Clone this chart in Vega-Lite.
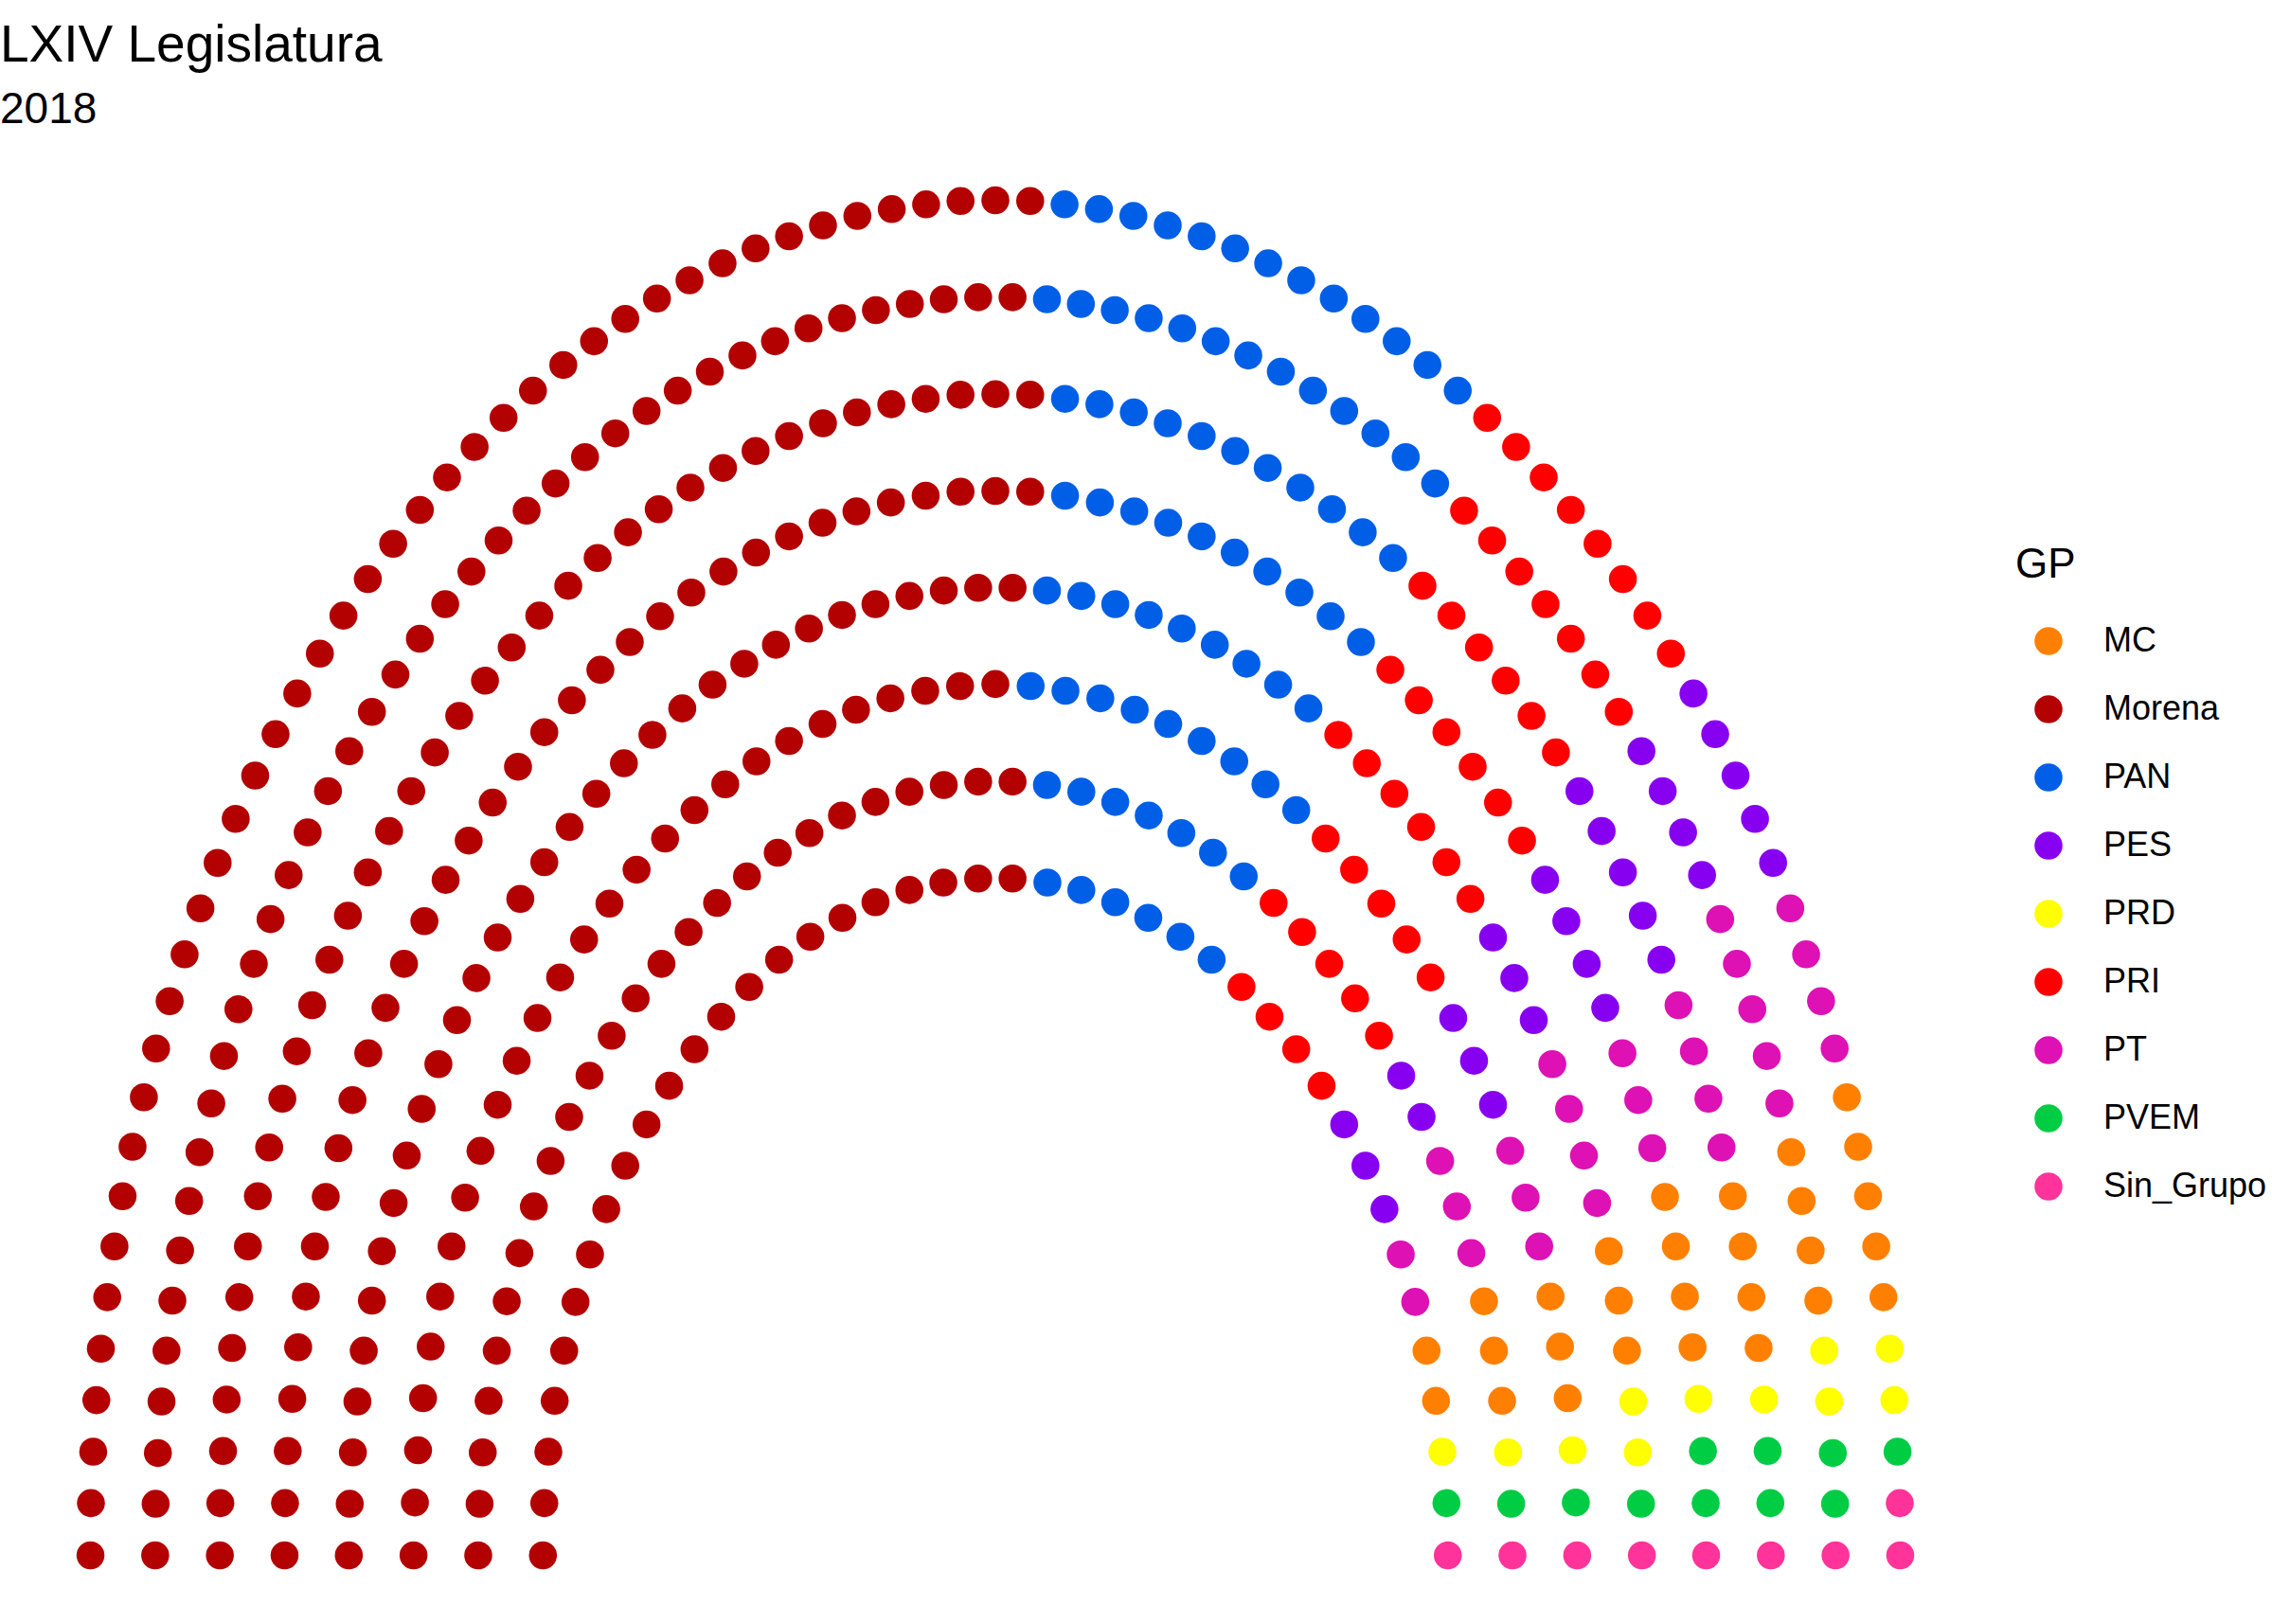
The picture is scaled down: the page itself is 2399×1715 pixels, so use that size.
{
"$schema":"https://vega.github.io/schema/vega-lite/v6.json",
"width":2102,"height":1574,
"autosize":{"type":"none"},
"padding":{"left":0,"top":140,"right":297,"bottom":1},
"background":"white",
"config":{"view":{"stroke":null},"font":"Liberation Sans"},
"title":{"text":"LXIV Legislatura","subtitle":"2018","anchor":"start","frame":"group","orient":"top","offset":0,"font":"Liberation Sans","fontSize":55,"fontWeight":"normal","color":"black","subtitleFont":"Liberation Sans","subtitleFontSize":46,"subtitleColor":"black","subtitlePadding":17},
"data":{"values":[
{"x":1,"y":0,"GP":"Sin_Grupo"},{"x":0.997,"y":0.077,"GP":"PVEM"},{"x":0.988,"y":0.153,"GP":"PRD"},{"x":0.974,"y":0.228,"GP":"MC"},{"x":0.953,"y":0.302,"GP":"MC"},{"x":0.928,"y":0.374,"GP":"PT"},{"x":0.896,"y":0.444,"GP":"PT"},{"x":0.860,"y":0.511,"GP":"PES"},{"x":0.818,"y":0.575,"GP":"PES"},{"x":0.771,"y":0.636,"GP":"PES"},{"x":0.721,"y":0.693,"GP":"PRI"},{"x":0.665,"y":0.747,"GP":"PRI"},{"x":0.606,"y":0.795,"GP":"PRI"},{"x":0.544,"y":0.839,"GP":"PRI"},{"x":0.478,"y":0.879,"GP":"PAN"},{"x":0.409,"y":0.913,"GP":"PAN"},{"x":0.338,"y":0.941,"GP":"PAN"},{"x":0.265,"y":0.964,"GP":"PAN"},{"x":0.190,"y":0.982,"GP":"PAN"},{"x":0.115,"y":0.993,"GP":"PAN"},{"x":0.038,"y":0.999,"GP":"Morena"},
{"x":-0.038,"y":0.999,"GP":"Morena"},{"x":-0.115,"y":0.993,"GP":"Morena"},{"x":-0.190,"y":0.982,"GP":"Morena"},{"x":-0.265,"y":0.964,"GP":"Morena"},{"x":-0.338,"y":0.941,"GP":"Morena"},{"x":-0.409,"y":0.913,"GP":"Morena"},{"x":-0.478,"y":0.879,"GP":"Morena"},{"x":-0.544,"y":0.839,"GP":"Morena"},{"x":-0.606,"y":0.795,"GP":"Morena"},{"x":-0.665,"y":0.747,"GP":"Morena"},{"x":-0.721,"y":0.693,"GP":"Morena"},{"x":-0.771,"y":0.636,"GP":"Morena"},{"x":-0.818,"y":0.575,"GP":"Morena"},{"x":-0.860,"y":0.511,"GP":"Morena"},{"x":-0.896,"y":0.444,"GP":"Morena"},{"x":-0.928,"y":0.374,"GP":"Morena"},{"x":-0.953,"y":0.302,"GP":"Morena"},{"x":-0.974,"y":0.228,"GP":"Morena"},{"x":-0.988,"y":0.153,"GP":"Morena"},{"x":-0.997,"y":0.077,"GP":"Morena"},{"x":-1,"y":0,"GP":"Morena"},
{"x":1.143,"y":0,"GP":"Sin_Grupo"},{"x":1.140,"y":0.076,"GP":"PVEM"},{"x":1.133,"y":0.152,"GP":"PRD"},{"x":1.120,"y":0.228,"GP":"MC"},{"x":1.102,"y":0.302,"GP":"MC"},{"x":1.080,"y":0.375,"GP":"MC"},{"x":1.052,"y":0.446,"GP":"PT"},{"x":1.020,"y":0.515,"GP":"PT"},{"x":0.983,"y":0.582,"GP":"PT"},{"x":0.942,"y":0.647,"GP":"PES"},{"x":0.897,"y":0.708,"GP":"PES"},{"x":0.848,"y":0.767,"GP":"PRI"},{"x":0.795,"y":0.822,"GP":"PRI"},{"x":0.738,"y":0.873,"GP":"PRI"},{"x":0.678,"y":0.920,"GP":"PRI"},{"x":0.615,"y":0.963,"GP":"PRI"},{"x":0.549,"y":1.002,"GP":"PAN"},{"x":0.481,"y":1.037,"GP":"PAN"},{"x":0.411,"y":1.066,"GP":"PAN"},{"x":0.339,"y":1.092,"GP":"PAN"},{"x":0.265,"y":1.112,"GP":"PAN"},{"x":0.190,"y":1.127,"GP":"PAN"},{"x":0.114,"y":1.137,"GP":"PAN"},{"x":0.038,"y":1.142,"GP":"Morena"},
{"x":-0.038,"y":1.142,"GP":"Morena"},{"x":-0.114,"y":1.137,"GP":"Morena"},{"x":-0.190,"y":1.127,"GP":"Morena"},{"x":-0.265,"y":1.112,"GP":"Morena"},{"x":-0.339,"y":1.092,"GP":"Morena"},{"x":-0.411,"y":1.066,"GP":"Morena"},{"x":-0.481,"y":1.037,"GP":"Morena"},{"x":-0.549,"y":1.002,"GP":"Morena"},{"x":-0.615,"y":0.963,"GP":"Morena"},{"x":-0.678,"y":0.920,"GP":"Morena"},{"x":-0.738,"y":0.873,"GP":"Morena"},{"x":-0.795,"y":0.822,"GP":"Morena"},{"x":-0.848,"y":0.767,"GP":"Morena"},{"x":-0.897,"y":0.708,"GP":"Morena"},{"x":-0.942,"y":0.647,"GP":"Morena"},{"x":-0.983,"y":0.582,"GP":"Morena"},{"x":-1.020,"y":0.515,"GP":"Morena"},{"x":-1.052,"y":0.446,"GP":"Morena"},{"x":-1.080,"y":0.375,"GP":"Morena"},{"x":-1.102,"y":0.302,"GP":"Morena"},{"x":-1.120,"y":0.228,"GP":"Morena"},{"x":-1.133,"y":0.152,"GP":"Morena"},{"x":-1.140,"y":0.076,"GP":"Morena"},{"x":-1.143,"y":0,"GP":"Morena"},
{"x":1.286,"y":0,"GP":"Sin_Grupo"},{"x":1.283,"y":0.078,"GP":"PVEM"},{"x":1.276,"y":0.155,"GP":"PRD"},{"x":1.265,"y":0.232,"GP":"MC"},{"x":1.248,"y":0.308,"GP":"MC"},{"x":1.227,"y":0.382,"GP":"MC"},{"x":1.202,"y":0.456,"GP":"PT"},{"x":1.172,"y":0.528,"GP":"PT"},{"x":1.138,"y":0.597,"GP":"PT"},{"x":1.100,"y":0.665,"GP":"PES"},{"x":1.058,"y":0.730,"GP":"PES"},{"x":1.012,"y":0.793,"GP":"PES"},{"x":0.962,"y":0.853,"GP":"PRI"},{"x":0.909,"y":0.909,"GP":"PRI"},{"x":0.853,"y":0.962,"GP":"PRI"},{"x":0.793,"y":1.012,"GP":"PRI"},{"x":0.730,"y":1.058,"GP":"PRI"},{"x":0.665,"y":1.100,"GP":"PAN"},{"x":0.597,"y":1.138,"GP":"PAN"},{"x":0.528,"y":1.172,"GP":"PAN"},{"x":0.456,"y":1.202,"GP":"PAN"},{"x":0.382,"y":1.227,"GP":"PAN"},{"x":0.308,"y":1.248,"GP":"PAN"},{"x":0.232,"y":1.265,"GP":"PAN"},{"x":0.155,"y":1.276,"GP":"PAN"},{"x":0.078,"y":1.283,"GP":"PAN"},{"x":0,"y":1.286,"GP":"Morena"},
{"x":-0.078,"y":1.283,"GP":"Morena"},{"x":-0.155,"y":1.276,"GP":"Morena"},{"x":-0.232,"y":1.265,"GP":"Morena"},{"x":-0.308,"y":1.248,"GP":"Morena"},{"x":-0.382,"y":1.227,"GP":"Morena"},{"x":-0.456,"y":1.202,"GP":"Morena"},{"x":-0.528,"y":1.172,"GP":"Morena"},{"x":-0.597,"y":1.138,"GP":"Morena"},{"x":-0.665,"y":1.100,"GP":"Morena"},{"x":-0.730,"y":1.058,"GP":"Morena"},{"x":-0.793,"y":1.012,"GP":"Morena"},{"x":-0.853,"y":0.962,"GP":"Morena"},{"x":-0.909,"y":0.909,"GP":"Morena"},{"x":-0.962,"y":0.853,"GP":"Morena"},{"x":-1.012,"y":0.793,"GP":"Morena"},{"x":-1.058,"y":0.730,"GP":"Morena"},{"x":-1.100,"y":0.665,"GP":"Morena"},{"x":-1.138,"y":0.597,"GP":"Morena"},{"x":-1.172,"y":0.528,"GP":"Morena"},{"x":-1.202,"y":0.456,"GP":"Morena"},{"x":-1.227,"y":0.382,"GP":"Morena"},{"x":-1.248,"y":0.308,"GP":"Morena"},{"x":-1.265,"y":0.232,"GP":"Morena"},{"x":-1.276,"y":0.155,"GP":"Morena"},{"x":-1.283,"y":0.078,"GP":"Morena"},{"x":-1.286,"y":0,"GP":"Morena"},
{"x":1.429,"y":0,"GP":"Sin_Grupo"},{"x":1.427,"y":0.076,"GP":"PVEM"},{"x":1.420,"y":0.152,"GP":"PRD"},{"x":1.410,"y":0.227,"GP":"PRD"},{"x":1.396,"y":0.302,"GP":"MC"},{"x":1.378,"y":0.376,"GP":"MC"},{"x":1.356,"y":0.449,"GP":"MC"},{"x":1.330,"y":0.520,"GP":"PT"},{"x":1.301,"y":0.590,"GP":"PT"},{"x":1.268,"y":0.659,"GP":"PT"},{"x":1.231,"y":0.725,"GP":"PT"},{"x":1.190,"y":0.790,"GP":"PES"},{"x":1.147,"y":0.852,"GP":"PES"},{"x":1.100,"y":0.912,"GP":"PES"},{"x":1.050,"y":0.969,"GP":"PRI"},{"x":0.997,"y":1.023,"GP":"PRI"},{"x":0.941,"y":1.075,"GP":"PRI"},{"x":0.882,"y":1.124,"GP":"PRI"},{"x":0.821,"y":1.169,"GP":"PRI"},{"x":0.758,"y":1.211,"GP":"PRI"},{"x":0.692,"y":1.250,"GP":"PAN"},{"x":0.625,"y":1.285,"GP":"PAN"},{"x":0.555,"y":1.316,"GP":"PAN"},{"x":0.485,"y":1.344,"GP":"PAN"},{"x":0.412,"y":1.368,"GP":"PAN"},{"x":0.339,"y":1.388,"GP":"PAN"},{"x":0.265,"y":1.404,"GP":"PAN"},{"x":0.190,"y":1.416,"GP":"PAN"},{"x":0.114,"y":1.424,"GP":"PAN"},{"x":0.038,"y":1.428,"GP":"Morena"},
{"x":-0.038,"y":1.428,"GP":"Morena"},{"x":-0.114,"y":1.424,"GP":"Morena"},{"x":-0.190,"y":1.416,"GP":"Morena"},{"x":-0.265,"y":1.404,"GP":"Morena"},{"x":-0.339,"y":1.388,"GP":"Morena"},{"x":-0.412,"y":1.368,"GP":"Morena"},{"x":-0.485,"y":1.344,"GP":"Morena"},{"x":-0.555,"y":1.316,"GP":"Morena"},{"x":-0.625,"y":1.285,"GP":"Morena"},{"x":-0.692,"y":1.250,"GP":"Morena"},{"x":-0.758,"y":1.211,"GP":"Morena"},{"x":-0.821,"y":1.169,"GP":"Morena"},{"x":-0.882,"y":1.124,"GP":"Morena"},{"x":-0.941,"y":1.075,"GP":"Morena"},{"x":-0.997,"y":1.023,"GP":"Morena"},{"x":-1.050,"y":0.969,"GP":"Morena"},{"x":-1.100,"y":0.912,"GP":"Morena"},{"x":-1.147,"y":0.852,"GP":"Morena"},{"x":-1.190,"y":0.790,"GP":"Morena"},{"x":-1.231,"y":0.725,"GP":"Morena"},{"x":-1.268,"y":0.659,"GP":"Morena"},{"x":-1.301,"y":0.590,"GP":"Morena"},{"x":-1.330,"y":0.520,"GP":"Morena"},{"x":-1.356,"y":0.449,"GP":"Morena"},{"x":-1.378,"y":0.376,"GP":"Morena"},{"x":-1.396,"y":0.302,"GP":"Morena"},{"x":-1.410,"y":0.227,"GP":"Morena"},{"x":-1.420,"y":0.152,"GP":"Morena"},{"x":-1.427,"y":0.076,"GP":"Morena"},{"x":-1.429,"y":0,"GP":"Morena"},
{"x":1.571,"y":0,"GP":"Sin_Grupo"},{"x":1.570,"y":0.077,"GP":"PVEM"},{"x":1.564,"y":0.154,"GP":"PVEM"},{"x":1.554,"y":0.231,"GP":"PRD"},{"x":1.541,"y":0.307,"GP":"MC"},{"x":1.524,"y":0.382,"GP":"MC"},{"x":1.504,"y":0.456,"GP":"MC"},{"x":1.480,"y":0.529,"GP":"MC"},{"x":1.452,"y":0.601,"GP":"PT"},{"x":1.421,"y":0.672,"GP":"PT"},{"x":1.386,"y":0.741,"GP":"PT"},{"x":1.348,"y":0.808,"GP":"PES"},{"x":1.307,"y":0.873,"GP":"PES"},{"x":1.262,"y":0.936,"GP":"PES"},{"x":1.215,"y":0.997,"GP":"PES"},{"x":1.164,"y":1.055,"GP":"PRI"},{"x":1.111,"y":1.111,"GP":"PRI"},{"x":1.055,"y":1.164,"GP":"PRI"},{"x":0.997,"y":1.215,"GP":"PRI"},{"x":0.936,"y":1.262,"GP":"PRI"},{"x":0.873,"y":1.307,"GP":"PRI"},{"x":0.808,"y":1.348,"GP":"PAN"},{"x":0.741,"y":1.386,"GP":"PAN"},{"x":0.672,"y":1.421,"GP":"PAN"},{"x":0.601,"y":1.452,"GP":"PAN"},{"x":0.529,"y":1.480,"GP":"PAN"},{"x":0.456,"y":1.504,"GP":"PAN"},{"x":0.382,"y":1.524,"GP":"PAN"},{"x":0.307,"y":1.541,"GP":"PAN"},{"x":0.231,"y":1.554,"GP":"PAN"},{"x":0.154,"y":1.564,"GP":"PAN"},{"x":0.077,"y":1.570,"GP":"Morena"},{"x":0,"y":1.571,"GP":"Morena"},
{"x":-0.077,"y":1.570,"GP":"Morena"},{"x":-0.154,"y":1.564,"GP":"Morena"},{"x":-0.231,"y":1.554,"GP":"Morena"},{"x":-0.307,"y":1.541,"GP":"Morena"},{"x":-0.382,"y":1.524,"GP":"Morena"},{"x":-0.456,"y":1.504,"GP":"Morena"},{"x":-0.529,"y":1.480,"GP":"Morena"},{"x":-0.601,"y":1.452,"GP":"Morena"},{"x":-0.672,"y":1.421,"GP":"Morena"},{"x":-0.741,"y":1.386,"GP":"Morena"},{"x":-0.808,"y":1.348,"GP":"Morena"},{"x":-0.873,"y":1.307,"GP":"Morena"},{"x":-0.936,"y":1.262,"GP":"Morena"},{"x":-0.997,"y":1.215,"GP":"Morena"},{"x":-1.055,"y":1.164,"GP":"Morena"},{"x":-1.111,"y":1.111,"GP":"Morena"},{"x":-1.164,"y":1.055,"GP":"Morena"},{"x":-1.215,"y":0.997,"GP":"Morena"},{"x":-1.262,"y":0.936,"GP":"Morena"},{"x":-1.307,"y":0.873,"GP":"Morena"},{"x":-1.348,"y":0.808,"GP":"Morena"},{"x":-1.386,"y":0.741,"GP":"Morena"},{"x":-1.421,"y":0.672,"GP":"Morena"},{"x":-1.452,"y":0.601,"GP":"Morena"},{"x":-1.480,"y":0.529,"GP":"Morena"},{"x":-1.504,"y":0.456,"GP":"Morena"},{"x":-1.524,"y":0.382,"GP":"Morena"},{"x":-1.541,"y":0.307,"GP":"Morena"},{"x":-1.554,"y":0.231,"GP":"Morena"},{"x":-1.564,"y":0.154,"GP":"Morena"},{"x":-1.570,"y":0.077,"GP":"Morena"},{"x":-1.571,"y":0,"GP":"Morena"},
{"x":1.714,"y":0,"GP":"Sin_Grupo"},{"x":1.713,"y":0.077,"GP":"PVEM"},{"x":1.707,"y":0.154,"GP":"PVEM"},{"x":1.699,"y":0.230,"GP":"PRD"},{"x":1.687,"y":0.306,"GP":"MC"},{"x":1.671,"y":0.381,"GP":"MC"},{"x":1.652,"y":0.456,"GP":"MC"},{"x":1.630,"y":0.530,"GP":"MC"},{"x":1.605,"y":0.602,"GP":"PT"},{"x":1.576,"y":0.674,"GP":"PT"},{"x":1.544,"y":0.744,"GP":"PT"},{"x":1.510,"y":0.812,"GP":"PT"},{"x":1.472,"y":0.879,"GP":"PES"},{"x":1.431,"y":0.944,"GP":"PES"},{"x":1.387,"y":1.008,"GP":"PES"},{"x":1.340,"y":1.069,"GP":"PES"},{"x":1.291,"y":1.128,"GP":"PES"},{"x":1.239,"y":1.185,"GP":"PRI"},{"x":1.185,"y":1.239,"GP":"PRI"},{"x":1.128,"y":1.291,"GP":"PRI"},{"x":1.069,"y":1.340,"GP":"PRI"},{"x":1.008,"y":1.387,"GP":"PRI"},{"x":0.944,"y":1.431,"GP":"PRI"},{"x":0.879,"y":1.472,"GP":"PAN"},{"x":0.812,"y":1.510,"GP":"PAN"},{"x":0.744,"y":1.544,"GP":"PAN"},{"x":0.674,"y":1.576,"GP":"PAN"},{"x":0.602,"y":1.605,"GP":"PAN"},{"x":0.530,"y":1.630,"GP":"PAN"},{"x":0.456,"y":1.652,"GP":"PAN"},{"x":0.381,"y":1.671,"GP":"PAN"},{"x":0.306,"y":1.687,"GP":"PAN"},{"x":0.230,"y":1.699,"GP":"PAN"},{"x":0.154,"y":1.707,"GP":"PAN"},{"x":0.077,"y":1.713,"GP":"Morena"},{"x":0,"y":1.714,"GP":"Morena"},
{"x":-0.077,"y":1.713,"GP":"Morena"},{"x":-0.154,"y":1.707,"GP":"Morena"},{"x":-0.230,"y":1.699,"GP":"Morena"},{"x":-0.306,"y":1.687,"GP":"Morena"},{"x":-0.381,"y":1.671,"GP":"Morena"},{"x":-0.456,"y":1.652,"GP":"Morena"},{"x":-0.530,"y":1.630,"GP":"Morena"},{"x":-0.602,"y":1.605,"GP":"Morena"},{"x":-0.674,"y":1.576,"GP":"Morena"},{"x":-0.744,"y":1.544,"GP":"Morena"},{"x":-0.812,"y":1.510,"GP":"Morena"},{"x":-0.879,"y":1.472,"GP":"Morena"},{"x":-0.944,"y":1.431,"GP":"Morena"},{"x":-1.008,"y":1.387,"GP":"Morena"},{"x":-1.069,"y":1.340,"GP":"Morena"},{"x":-1.128,"y":1.291,"GP":"Morena"},{"x":-1.185,"y":1.239,"GP":"Morena"},{"x":-1.239,"y":1.185,"GP":"Morena"},{"x":-1.291,"y":1.128,"GP":"Morena"},{"x":-1.340,"y":1.069,"GP":"Morena"},{"x":-1.387,"y":1.008,"GP":"Morena"},{"x":-1.431,"y":0.944,"GP":"Morena"},{"x":-1.472,"y":0.879,"GP":"Morena"},{"x":-1.510,"y":0.812,"GP":"Morena"},{"x":-1.544,"y":0.744,"GP":"Morena"},{"x":-1.576,"y":0.674,"GP":"Morena"},{"x":-1.605,"y":0.602,"GP":"Morena"},{"x":-1.630,"y":0.530,"GP":"Morena"},{"x":-1.652,"y":0.456,"GP":"Morena"},{"x":-1.671,"y":0.381,"GP":"Morena"},{"x":-1.687,"y":0.306,"GP":"Morena"},{"x":-1.699,"y":0.230,"GP":"Morena"},{"x":-1.707,"y":0.154,"GP":"Morena"},{"x":-1.713,"y":0.077,"GP":"Morena"},{"x":-1.714,"y":0,"GP":"Morena"},
{"x":1.857,"y":0,"GP":"Sin_Grupo"},{"x":1.856,"y":0.076,"GP":"PVEM"},{"x":1.851,"y":0.151,"GP":"PVEM"},{"x":1.843,"y":0.227,"GP":"PRD"},{"x":1.832,"y":0.302,"GP":"PRD"},{"x":1.819,"y":0.376,"GP":"MC"},{"x":1.802,"y":0.450,"GP":"MC"},{"x":1.782,"y":0.523,"GP":"MC"},{"x":1.759,"y":0.595,"GP":"MC"},{"x":1.733,"y":0.667,"GP":"PT"},{"x":1.705,"y":0.737,"GP":"PT"},{"x":1.673,"y":0.806,"GP":"PT"},{"x":1.639,"y":0.873,"GP":"PT"},{"x":1.602,"y":0.939,"GP":"PT"},{"x":1.562,"y":1.004,"GP":"PES"},{"x":1.520,"y":1.067,"GP":"PES"},{"x":1.475,"y":1.128,"GP":"PES"},{"x":1.428,"y":1.187,"GP":"PES"},{"x":1.378,"y":1.245,"GP":"PRI"},{"x":1.326,"y":1.300,"GP":"PRI"},{"x":1.272,"y":1.353,"GP":"PRI"},{"x":1.216,"y":1.404,"GP":"PRI"},{"x":1.158,"y":1.452,"GP":"PRI"},{"x":1.098,"y":1.498,"GP":"PRI"},{"x":1.036,"y":1.542,"GP":"PRI"},{"x":0.972,"y":1.582,"GP":"PAN"},{"x":0.907,"y":1.621,"GP":"PAN"},{"x":0.840,"y":1.656,"GP":"PAN"},{"x":0.771,"y":1.689,"GP":"PAN"},{"x":0.702,"y":1.719,"GP":"PAN"},{"x":0.631,"y":1.747,"GP":"PAN"},{"x":0.559,"y":1.771,"GP":"PAN"},{"x":0.487,"y":1.792,"GP":"PAN"},{"x":0.413,"y":1.811,"GP":"PAN"},{"x":0.339,"y":1.826,"GP":"PAN"},{"x":0.264,"y":1.838,"GP":"PAN"},{"x":0.189,"y":1.847,"GP":"PAN"},{"x":0.114,"y":1.854,"GP":"PAN"},{"x":0.038,"y":1.857,"GP":"Morena"},
{"x":-0.038,"y":1.857,"GP":"Morena"},{"x":-0.114,"y":1.854,"GP":"Morena"},{"x":-0.189,"y":1.847,"GP":"Morena"},{"x":-0.264,"y":1.838,"GP":"Morena"},{"x":-0.339,"y":1.826,"GP":"Morena"},{"x":-0.413,"y":1.811,"GP":"Morena"},{"x":-0.487,"y":1.792,"GP":"Morena"},{"x":-0.559,"y":1.771,"GP":"Morena"},{"x":-0.631,"y":1.747,"GP":"Morena"},{"x":-0.702,"y":1.719,"GP":"Morena"},{"x":-0.771,"y":1.689,"GP":"Morena"},{"x":-0.840,"y":1.656,"GP":"Morena"},{"x":-0.907,"y":1.621,"GP":"Morena"},{"x":-0.972,"y":1.582,"GP":"Morena"},{"x":-1.036,"y":1.542,"GP":"Morena"},{"x":-1.098,"y":1.498,"GP":"Morena"},{"x":-1.158,"y":1.452,"GP":"Morena"},{"x":-1.216,"y":1.404,"GP":"Morena"},{"x":-1.272,"y":1.353,"GP":"Morena"},{"x":-1.326,"y":1.300,"GP":"Morena"},{"x":-1.378,"y":1.245,"GP":"Morena"},{"x":-1.428,"y":1.187,"GP":"Morena"},{"x":-1.475,"y":1.128,"GP":"Morena"},{"x":-1.520,"y":1.067,"GP":"Morena"},{"x":-1.562,"y":1.004,"GP":"Morena"},{"x":-1.602,"y":0.939,"GP":"Morena"},{"x":-1.639,"y":0.873,"GP":"Morena"},{"x":-1.673,"y":0.806,"GP":"Morena"},{"x":-1.705,"y":0.737,"GP":"Morena"},{"x":-1.733,"y":0.667,"GP":"Morena"},{"x":-1.759,"y":0.595,"GP":"Morena"},{"x":-1.782,"y":0.523,"GP":"Morena"},{"x":-1.802,"y":0.450,"GP":"Morena"},{"x":-1.819,"y":0.376,"GP":"Morena"},{"x":-1.832,"y":0.302,"GP":"Morena"},{"x":-1.843,"y":0.227,"GP":"Morena"},{"x":-1.851,"y":0.151,"GP":"Morena"},{"x":-1.856,"y":0.076,"GP":"Morena"},{"x":-1.857,"y":0,"GP":"Morena"},
{"x":2,"y":0,"GP":"Sin_Grupo"},{"x":1.999,"y":0.077,"GP":"Sin_Grupo"},{"x":1.994,"y":0.153,"GP":"PVEM"},{"x":1.987,"y":0.229,"GP":"PRD"},{"x":1.977,"y":0.305,"GP":"PRD"},{"x":1.963,"y":0.381,"GP":"MC"},{"x":1.947,"y":0.456,"GP":"MC"},{"x":1.929,"y":0.530,"GP":"MC"},{"x":1.907,"y":0.603,"GP":"MC"},{"x":1.882,"y":0.676,"GP":"MC"},{"x":1.855,"y":0.748,"GP":"PT"},{"x":1.825,"y":0.818,"GP":"PT"},{"x":1.792,"y":0.887,"GP":"PT"},{"x":1.757,"y":0.955,"GP":"PT"},{"x":1.719,"y":1.022,"GP":"PES"},{"x":1.679,"y":1.087,"GP":"PES"},{"x":1.636,"y":1.151,"GP":"PES"},{"x":1.591,"y":1.212,"GP":"PES"},{"x":1.543,"y":1.272,"GP":"PES"},{"x":1.493,"y":1.331,"GP":"PRI"},{"x":1.441,"y":1.387,"GP":"PRI"},{"x":1.387,"y":1.441,"GP":"PRI"},{"x":1.331,"y":1.493,"GP":"PRI"},{"x":1.272,"y":1.543,"GP":"PRI"},{"x":1.212,"y":1.591,"GP":"PRI"},{"x":1.151,"y":1.636,"GP":"PRI"},{"x":1.087,"y":1.679,"GP":"PRI"},{"x":1.022,"y":1.719,"GP":"PAN"},{"x":0.955,"y":1.757,"GP":"PAN"},{"x":0.887,"y":1.792,"GP":"PAN"},{"x":0.818,"y":1.825,"GP":"PAN"},{"x":0.748,"y":1.855,"GP":"PAN"},{"x":0.676,"y":1.882,"GP":"PAN"},{"x":0.603,"y":1.907,"GP":"PAN"},{"x":0.530,"y":1.929,"GP":"PAN"},{"x":0.456,"y":1.947,"GP":"PAN"},{"x":0.381,"y":1.963,"GP":"PAN"},{"x":0.305,"y":1.977,"GP":"PAN"},{"x":0.229,"y":1.987,"GP":"PAN"},{"x":0.153,"y":1.994,"GP":"PAN"},{"x":0.077,"y":1.999,"GP":"Morena"},{"x":0,"y":2,"GP":"Morena"},
{"x":-0.077,"y":1.999,"GP":"Morena"},{"x":-0.153,"y":1.994,"GP":"Morena"},{"x":-0.229,"y":1.987,"GP":"Morena"},{"x":-0.305,"y":1.977,"GP":"Morena"},{"x":-0.381,"y":1.963,"GP":"Morena"},{"x":-0.456,"y":1.947,"GP":"Morena"},{"x":-0.530,"y":1.929,"GP":"Morena"},{"x":-0.603,"y":1.907,"GP":"Morena"},{"x":-0.676,"y":1.882,"GP":"Morena"},{"x":-0.748,"y":1.855,"GP":"Morena"},{"x":-0.818,"y":1.825,"GP":"Morena"},{"x":-0.887,"y":1.792,"GP":"Morena"},{"x":-0.955,"y":1.757,"GP":"Morena"},{"x":-1.022,"y":1.719,"GP":"Morena"},{"x":-1.087,"y":1.679,"GP":"Morena"},{"x":-1.151,"y":1.636,"GP":"Morena"},{"x":-1.212,"y":1.591,"GP":"Morena"},{"x":-1.272,"y":1.543,"GP":"Morena"},{"x":-1.331,"y":1.493,"GP":"Morena"},{"x":-1.387,"y":1.441,"GP":"Morena"},{"x":-1.441,"y":1.387,"GP":"Morena"},{"x":-1.493,"y":1.331,"GP":"Morena"},{"x":-1.543,"y":1.272,"GP":"Morena"},{"x":-1.591,"y":1.212,"GP":"Morena"},{"x":-1.636,"y":1.151,"GP":"Morena"},{"x":-1.679,"y":1.087,"GP":"Morena"},{"x":-1.719,"y":1.022,"GP":"Morena"},{"x":-1.757,"y":0.955,"GP":"Morena"},{"x":-1.792,"y":0.887,"GP":"Morena"},{"x":-1.825,"y":0.818,"GP":"Morena"},{"x":-1.855,"y":0.748,"GP":"Morena"},{"x":-1.882,"y":0.676,"GP":"Morena"},{"x":-1.907,"y":0.603,"GP":"Morena"},{"x":-1.929,"y":0.530,"GP":"Morena"},{"x":-1.947,"y":0.456,"GP":"Morena"},{"x":-1.963,"y":0.381,"GP":"Morena"},{"x":-1.977,"y":0.305,"GP":"Morena"},{"x":-1.987,"y":0.229,"GP":"Morena"},{"x":-1.994,"y":0.153,"GP":"Morena"},{"x":-1.999,"y":0.077,"GP":"Morena"},{"x":-2,"y":0,"GP":"Morena"}
]},
"mark":{"type":"circle","size":873,"opacity":1},
"encoding":{
"x":{"field":"x","type":"quantitative","scale":{"domain":[-2.2,2.2],"nice":false,"zero":false},"axis":null},
"y":{"field":"y","type":"quantitative","scale":{"domain":[-0.1,2.1],"nice":false,"zero":false},"axis":null},
"color":{"field":"GP","type":"nominal",
"scale":{"domain":["MC","Morena","PAN","PES","PRD","PRI","PT","PVEM","Sin_Grupo"],"range":["#FF8000","#B30000","#005FE6","#8800F0","#FFFF00","#FF0000","#DD11B4","#00CC44","#FF3399"]},
"legend":{"title":"GP","orient":"none","legendX":2128,"legendY":435,"titleFont":"Liberation Sans","titleFontSize":44,"titleFontWeight":"normal","titleColor":"black","titlePadding":40,"labelFont":"Liberation Sans","labelFontSize":36,"labelColor":"black","labelLimit":500,"symbolType":"circle","symbolSize":873,"symbolOpacity":1,"symbolStrokeWidth":0,"symbolOffset":17,"labelOffset":40,"rowPadding":36}}
}
}
